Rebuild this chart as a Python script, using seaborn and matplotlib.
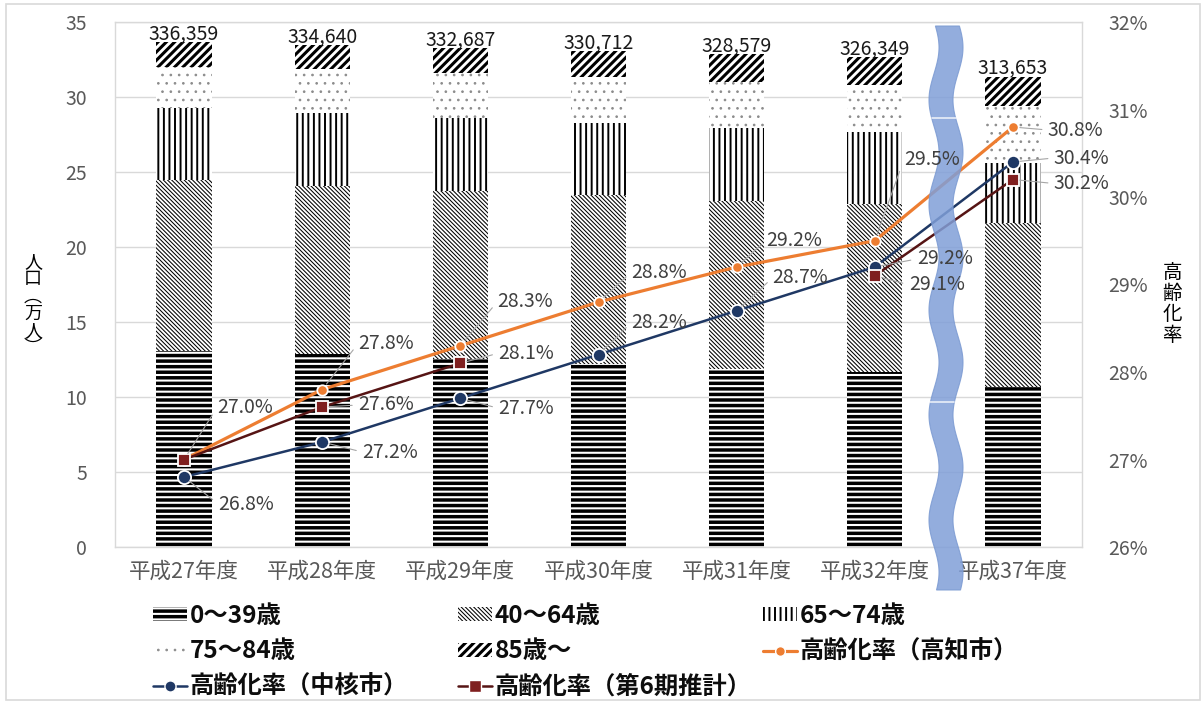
import numpy as np
import pandas as pd
import matplotlib
matplotlib.use("Agg")
import matplotlib.pyplot as plt
from matplotlib.patches import Patch, Polygon, Rectangle
from matplotlib.lines import Line2D
import seaborn as sns

# ---- data -------------------------------------------------------------
years = ["平成27年度", "平成28年度", "平成29年度", "平成30年度",
         "平成31年度", "平成32年度", "平成37年度"]
total_pop = [336359, 334640, 332687, 330712, 328579, 326349, 313653]   # 人

# age groups in 万人 (85歳～ is the rest of each total)
age_0_39 = [13.10, 12.90, 12.55, 12.22, 11.90, 11.70, 10.70]
age_40_64 = [11.35, 11.15, 11.15, 11.23, 11.20, 11.15, 10.90]
age_65_74 = [4.81, 4.88, 4.90, 4.81, 4.82, 4.81, 4.00]
age_75_84 = [2.74, 2.93, 3.00, 3.07, 3.08, 3.14, 3.80]

rate_kochi = [27.0, 27.8, 28.3, 28.8, 29.2, 29.5, 30.8]          # 高知市
rate_core = [26.8, 27.2, 27.7, 28.2, 28.7, 29.2, 30.4]           # 中核市
rate_plan6 = [27.0, 27.6, 28.1, np.nan, np.nan, 29.1, 30.2]      # 第6期推計

legend_labels = ["0～39歳", "40～64歳", "65～74歳", "75～84歳", "85歳～",
                 "高齢化率（高知市）", "高齢化率（中核市）", "高齢化率（第6期推計）"]

# ---- style ------------------------------------------------------------
sns.set_style("white")
plt.rcParams["font.family"] = ["Noto Sans CJK JP", "DejaVu Sans"]
plt.rcParams["hatch.linewidth"] = 1.0

W, H = 1203, 704
GRID = "#D9D9D9"
TICK = "#595959"
LABEL = "#404040"
ORANGE = "#ED7D31"
NAVY = "#1F3864"
MAROON_LINE = "#561414"
MAROON = "#7F1F1F"
BSL = chr(92)  # backslash hatch character

fig = plt.figure(figsize=(W / 100, H / 100), dpi=100)
fig.patch.set_facecolor("white")
ax = fig.add_axes([115 / W, 1 - 547 / H, (1082 - 115) / W, (547 - 22) / H])

# ---- stacked bars (tallest first, each lower stack drawn over it) -----
tot = np.array(total_pop) / 10000.0
c1 = np.array(age_0_39)
c2 = c1 + np.array(age_40_64)
c3 = c2 + np.array(age_65_74)
c4 = c3 + np.array(age_75_84)

layers = [
    (tot, "white", "black", "////", 2.2),
    (c4, "white", "#8C8C8C", "..", 0.7),
    (c3, "white", "black", "|||", 1.4),
    (c2, "white", "black", BSL * 8, 0.75),
    (c1, "black", "white", "---", 1.5),
]


def set_hatch_lw(patch, lw):
    if hasattr(patch, "set_hatch_linewidth"):
        patch.set_hatch_linewidth(lw)


for vals, face, hcol, hatch, hlw in layers:
    n0 = len(ax.patches)
    sns.barplot(x=years, y=vals, order=years, ax=ax, width=0.4, color=face,
                saturation=1, edgecolor=hcol, linewidth=0, hatch=hatch,
                errorbar=None, zorder=2)
    for p in ax.patches[n0:]:
        set_hatch_lw(p, hlw)

ax.set_ylim(0, 35)
ax.set_yticks(range(0, 36, 5))
ax.set_xlabel("")
ax.set_ylabel("")
ax.set_axisbelow(True)
ax.yaxis.grid(True, color=GRID, linewidth=1)
ax.xaxis.grid(False)
for s in ax.spines.values():
    s.set_visible(True)
    s.set_color(GRID)
    s.set_linewidth(1)
ax.tick_params(axis="y", length=0, pad=20, labelsize=14, labelcolor=TICK)
ax.tick_params(axis="x", length=0, pad=10, labelsize=15.5, labelcolor=TICK)

# total population above each bar
for i, v in enumerate(total_pop):
    ax.annotate(f"{v:,}", (i, v / 10000.0), xytext=(0, -2),
                textcoords="offset pixels", ha="center", va="bottom",
                fontsize=14, color="#1A1A1A")

# ---- ageing-rate lines on the right axis -----------------------------
ax2 = ax.twinx()
ax2.set_zorder(ax.get_zorder() + 1)
ax2.patch.set_visible(False)

rates = pd.DataFrame({"year": years, "kochi": rate_kochi,
                      "core": rate_core, "plan6": rate_plan6})

series_style = {
    "kochi": dict(color=ORANGE, marker="o", markersize=7.5, linewidth=2.3,
                  mfc=ORANGE),
    "core": dict(color=NAVY, marker="o", markersize=9.5, linewidth=1.8,
                 mfc=NAVY),
    "plan6": dict(color=MAROON_LINE, marker="s", markersize=9, linewidth=1.8,
                  mfc=MAROON),
}

for key in ["kochi", "core", "plan6"]:
    st = series_style[key]
    valid = rates[key].notna().to_numpy()
    # draw each unbroken run of values as its own polyline
    idx = np.flatnonzero(valid)
    runs = np.split(idx, np.flatnonzero(np.diff(idx) > 1) + 1)
    for run in runs:
        sub = rates.iloc[run]
        n_before = len(ax2.lines)
        sns.pointplot(data=sub, x="year", y=key, order=years, ax=ax2,
                      color=st["color"], markers=st["marker"], linestyles="-",
                      errorbar=None, markersize=st["markersize"],
                      linewidth=st["linewidth"], markeredgecolor="white",
                      markeredgewidth=1.3, zorder=4)
        for ln in ax2.lines[n_before:]:
            ln.set_markerfacecolor(st["mfc"])
            ln.set_markeredgecolor("white")
            ln.set_zorder(4)

ax2.set_ylim(26, 32)
ax2.set_yticks(range(26, 33))
ax2.set_yticklabels([f"{t}%" for t in range(26, 33)])
ax2.set_xlim(-0.5, len(years) - 0.5)
ax2.set_ylabel("")
ax2.set_xlabel("")
ax2.grid(False)
for s in ax2.spines.values():
    s.set_visible(False)
ax2.tick_params(axis="y", length=0, pad=19, labelsize=14, labelcolor=TICK)

# data-label offsets (pixels from the marker to the label's left-middle)
label_offsets = {
    "kochi": [None, (36, -46), (37, -44), (33, -30), (30, -27), (29, -81), (35, 3)],
    "core": [(34, 27), (40, 10), (38, 10), (33, -32), (36, -33), (42, -8), (41, -4)],
    "plan6": [(33, -52), (36, -2), (38, -10), None, None, (34, 9), (41, 4)],
}
for key, offs in label_offsets.items():
    for i, off in enumerate(offs):
        v = rates[key].iloc[i]
        if off is None or pd.isna(v):
            continue
        ax2.annotate(f"{v:.1f}%", (i, v), xytext=(off[0] * 0.72, -off[1] * 0.72),
                     textcoords="offset points", ha="left", va="center",
                     fontsize=14, color=LABEL, zorder=6,
                     arrowprops=dict(arrowstyle="-", color="#A6A6A6", lw=0.8,
                                     shrinkA=2, shrinkB=5,
                                     relpos=(0, 0.5)))

# ---- wavy break band between 平成32年度 and 平成37年度 ---------------------
ys = np.linspace(26, 590, 400)
xc = 946 - 5 * np.cos(2 * np.pi * (ys - 100) / 105)
half = 12
outline = np.vstack([np.column_stack([xc - half, ys]),
                     np.column_stack([xc + half, ys])[::-1]])
outline[:, 0] /= W
outline[:, 1] = 1 - outline[:, 1] / H
band = Polygon(outline, closed=True, transform=fig.transFigure,
               facecolor="#809FD8", edgecolor="#7B9AD2", linewidth=0.8,
               alpha=0.85, zorder=5, clip_on=False)
ax2.add_artist(band)
for yb in (118, 402):
    xcb = 946 - 5 * np.cos(2 * np.pi * (yb - 100) / 105)
    ax2.add_artist(Line2D([(xcb - half) / W, (xcb + half) / W],
                          [1 - yb / H, 1 - yb / H], transform=fig.transFigure,
                          color="white", linewidth=1.2, alpha=0.8, zorder=5,
                          clip_on=False))

# ---- axis titles (vertical writing) -----------------------------------
fig.text(33 / W, 1 - 305 / H, "人\n口\n︵\n万\n人\n︶", ha="center", va="center",
         fontsize=13, color="black", linespacing=0.95)
fig.text(1172 / W, 1 - 304 / H, "高\n齢\n化\n率", ha="center", va="center",
         fontsize=14, color="black", linespacing=1.0)

# ---- legend (three columns) -------------------------------------------
def hatch_handle(face, hcol, hatch, hlw):
    p = Patch(facecolor=face, edgecolor=hcol, hatch=hatch, linewidth=0)
    set_hatch_lw(p, hlw)
    return p


bar_styles = layers[::-1]   # 0～39歳 ... 85歳～
h_bars = [hatch_handle(f, c, h, w) for (_, f, c, h, w) in bar_styles]
h_kochi = Line2D([], [], color=ORANGE, lw=2.3, marker="o", markersize=7,
                 mfc=ORANGE, mec="white")
h_core = Line2D([], [], color=NAVY, lw=1.8, marker="o", markersize=8,
                mfc=NAVY, mec="white")
h_plan6 = Line2D([], [], color=MAROON_LINE, lw=1.8, marker="s", markersize=8,
                 mfc=MAROON, mec="white")

columns = [
    ([0, 3, "core"], 153),
    ([1, 4, "plan6"], 458),
    ([2, "kochi"], 763),
]
line_handles = {"kochi": h_kochi, "core": h_core, "plan6": h_plan6}
line_label_idx = {"kochi": 5, "core": 6, "plan6": 7}
for keys, x0 in columns:
    handles, labels, hatch_lws = [], [], []
    for k in keys:
        if isinstance(k, int):
            handles.append(h_bars[k])
            labels.append(legend_labels[k])
            hatch_lws.append(bar_styles[k][4])
        else:
            handles.append(line_handles[k])
            labels.append(legend_labels[line_label_idx[k]])
    leg = fig.legend(handles, labels, loc="upper left",
                     bbox_to_anchor=(x0 / W, 1 - 604 / H), frameon=False,
                     prop={"size": 17.5, "weight": "bold"},
                     handlelength=1.4, handleheight=0.5, handletextpad=0.12,
                     labelspacing=0.47, borderpad=0, borderaxespad=0,
                     labelcolor="#0D0D0D")
    for p, lw in zip(leg.get_patches(), hatch_lws):
        set_hatch_lw(p, lw)

# outer frame
fig.patches.append(Rectangle((6 / W, 1 - 700 / H), (1200 - 6) / W, (700 - 4) / H,
                             transform=fig.transFigure, fill=False,
                             edgecolor=GRID, linewidth=1.2))

fig.savefig("out.png", dpi=100)
